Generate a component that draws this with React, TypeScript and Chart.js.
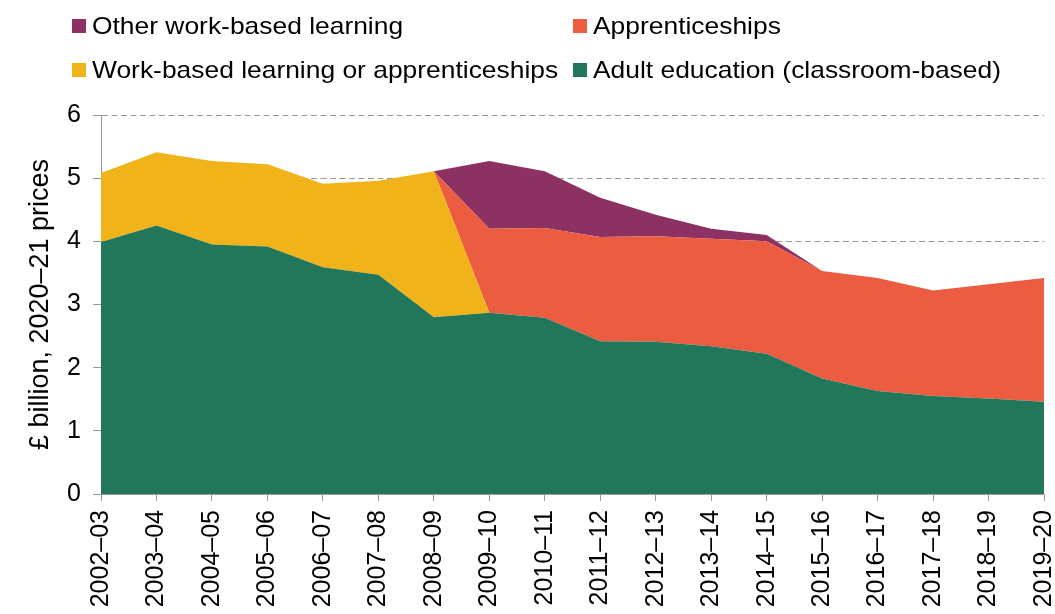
import React, { useEffect, useRef } from "react";
import { Chart, registerables } from "chart.js";

Chart.register(...registerables);

const categories = [
  "2002–03", "2003–04", "2004–05", "2005–06", "2006–07", "2007–08", "2008–09", "2009–10", "2010–11",
  "2011–12", "2012–13", "2013–14", "2014–15", "2015–16", "2016–17", "2017–18", "2018–19", "2019–20",
];

const adultEducation = [3.99, 4.25, 3.95, 3.92, 3.59, 3.47, 2.8, 2.87, 2.79, 2.42, 2.41, 2.34, 2.22, 1.83, 1.63, 1.55, 1.51, 1.46];
const workBasedOrApprenticeships = [1.09, 1.16, 1.32, 1.3, 1.32, 1.49, 2.31, 0, 0, 0, 0, 0, 0, 0, 0, 0, 0, 0];
const apprenticeships = [0, 0, 0, 0, 0, 0, 0, 1.33, 1.42, 1.65, 1.67, 1.7, 1.78, 1.7, 1.79, 1.67, 1.81, 1.96];
const otherWorkBased = [0, 0, 0, 0, 0, 0, 0, 1.07, 0.9, 0.62, 0.34, 0.16, 0.1, 0, 0, 0, 0, 0];

const yTicks = [0, 1, 2, 3, 4, 5, 6];

const GREEN = "#22775a";
const YELLOW = "#f0b41a";
const RED = "#eb5c41";
const PURPLE = "#8d3162";

const FONT = "'Liberation Sans', Arial, sans-serif";

const legendItems = [
  { label: "Other work-based learning", color: PURPLE, left: 72, top: 19 },
  { label: "Apprenticeships", color: RED, left: 573, top: 19 },
  { label: "Work-based learning or apprenticeships", color: YELLOW, left: 72, top: 63 },
  { label: "Adult education (classroom-based)", color: GREEN, left: 573, top: 63 },
];

export default function App() {
  const canvasRef = useRef<HTMLCanvasElement | null>(null);

  useEffect(() => {
    if (!canvasRef.current) return;
    const mk = (label: string, data: number[], color: string, fill: any) => ({
      label,
      data,
      backgroundColor: color,
      borderColor: color,
      borderWidth: 0,
      pointRadius: 0,
      pointHoverRadius: 0,
      fill,
      tension: 0,
    });
    const chart = new Chart(canvasRef.current, {
      type: "line",
      data: {
        labels: categories,
        datasets: [
          mk("Adult education (classroom-based)", adultEducation, GREEN, "origin"),
          mk("Work-based learning or apprenticeships", workBasedOrApprenticeships, YELLOW, "-1"),
          mk("Apprenticeships", apprenticeships, RED, "-1"),
          mk("Other work-based learning", otherWorkBased, PURPLE, "-1"),
        ],
      },
      options: {
        animation: false,
        responsive: true,
        maintainAspectRatio: false,
        layout: { padding: { top: 115, right: 11, left: 0, bottom: 0 } },
        plugins: {
          legend: { display: false },
          tooltip: { enabled: false },
        },
        scales: {
          x: {
            type: "category",
            offset: false,
            afterFit: (scale: any) => {
              scale.height = 120;
              scale.paddingLeft = 0;
              scale.paddingRight = 0;
            },
            grid: {
              display: true,
              drawOnChartArea: false,
              drawTicks: true,
              tickLength: 7,
              tickColor: "#999999",
              tickWidth: 1,
            },
            border: { display: true, color: "#999999", width: 1 },
            ticks: {
              minRotation: 90,
              maxRotation: 90,
              autoSkip: false,
              padding: 9,
              color: "#000000",
              font: { family: FONT, size: 25 },
            },
          },
          y: {
            stacked: true,
            min: 0,
            max: 6,
            afterFit: (scale: any) => {
              scale.width = 101;
            },
            afterBuildTicks: (scale: any) => {
              scale.ticks = yTicks.map((v) => ({ value: v }));
            },
            grid: {
              display: true,
              drawOnChartArea: true,
              drawTicks: true,
              tickLength: 8,
              color: "#999999",
              lineWidth: 1,
              tickColor: "#999999",
              tickBorderDash: [],
            },
            border: { display: true, color: "#999999", width: 1, dash: [6, 3.5] },
            ticks: {
              padding: 12,
              color: "#000000",
              font: { family: FONT, size: 25 },
            },
            title: {
              display: true,
              text: "£ billion, 2020–21 prices",
              color: "#000000",
              font: { family: FONT, size: 27 },
              padding: { top: 24, bottom: 0 },
            },
          },
        },
      },
    });
    return () => chart.destroy();
  }, []);

  return (
    <div style={{ position: "absolute", left: 0, top: 0, width: 1055, height: 614, background: "#fff" }}>
      <canvas ref={canvasRef} />
      {legendItems.map((it) => (
        <div key={it.label} style={{ position: "absolute", left: it.left, top: it.top, height: 14, display: "flex", alignItems: "center" }}>
          <div style={{ width: 14, height: 14, background: it.color, flex: "0 0 auto" }} />
          <span
            style={{
              marginLeft: 6,
              fontFamily: FONT,
              fontSize: 24,
              lineHeight: "14px",
              color: "#000",
              whiteSpace: "nowrap",
              display: "inline-block",
              transform: "scaleX(1.1)",
              transformOrigin: "left center",
            }}
          >
            {it.label}
          </span>
        </div>
      ))}
    </div>
  );
}
